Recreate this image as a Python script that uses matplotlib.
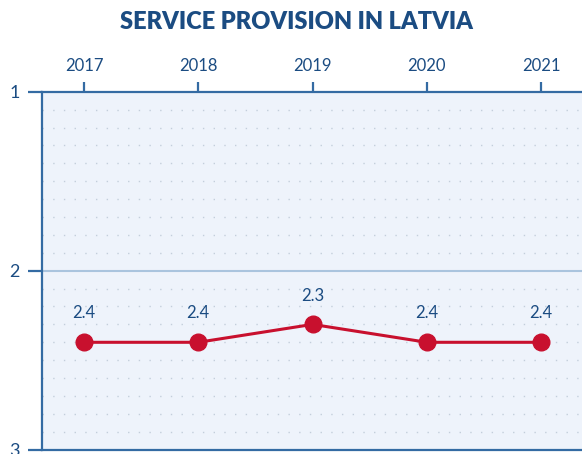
import matplotlib
matplotlib.use("Agg")
import matplotlib.pyplot as plt
from matplotlib.ticker import MultipleLocator

years = [2017, 2018, 2019, 2020, 2021]
scores = [2.4, 2.4, 2.3, 2.4, 2.4]
score_labels = ["2.4", "2.4", "2.3", "2.4", "2.4"]
y_ticks = [1, 2, 3]

DARK_BLUE = "#1b4c82"
AXIS_BLUE = "#346ba3"
BG = "#eef3fb"
RED = "#c8102e"

plt.rcParams["font.family"] = ["Lato", "DejaVu Sans"]

fig = plt.figure(figsize=(5.82, 4.54), dpi=100)
ax = fig.add_axes([0.0722, 0.0095, 0.94, 0.7885])
ax.set_facecolor(BG)

# dotted minor grid, solid light line at 2
ax.yaxis.set_minor_locator(MultipleLocator(0.1))
ax.grid(which="minor", axis="y", color="#c3cedb", linestyle=(0, (1, 6.7)), linewidth=1.0)
ax.axhline(2, color="#aac4de", linewidth=1.5, zorder=1)

ax.plot(years, scores, color=RED, linewidth=2.2, marker="o", markersize=12, zorder=3)
for x, y, lab in zip(years, scores, score_labels):
    ax.annotate(lab, (x, y), xytext=(0, 15), textcoords="offset points",
                ha="center", va="bottom", fontsize=12, color=DARK_BLUE)

ax.set_xlim(2016.633, 2021.42)
ax.set_ylim(3, 1)
ax.set_yticks(y_ticks)
ax.set_yticklabels([str(v) for v in y_ticks])
ax.set_xticks(years)
ax.set_xticklabels([str(y) for y in years])

ax.xaxis.tick_top()
ax.tick_params(axis="x", which="major", length=7, width=1.6, color=AXIS_BLUE,
               labelsize=12, labelcolor=DARK_BLUE, pad=6)
ax.tick_params(axis="y", which="major", length=10, width=1.6, color=AXIS_BLUE,
               labelsize=13, labelcolor=DARK_BLUE, pad=6)
ax.tick_params(axis="y", which="minor", length=0)

for side in ["left", "top", "bottom"]:
    ax.spines[side].set_color(AXIS_BLUE)
    ax.spines[side].set_linewidth(1.6)
ax.spines["right"].set_visible(False)

fig.text(0.51, 0.952, "SERVICE PROVISION IN LATVIA", ha="center", va="center",
         fontsize=17, fontweight="heavy", color=DARK_BLUE)

fig.savefig("out.png", dpi=100)
